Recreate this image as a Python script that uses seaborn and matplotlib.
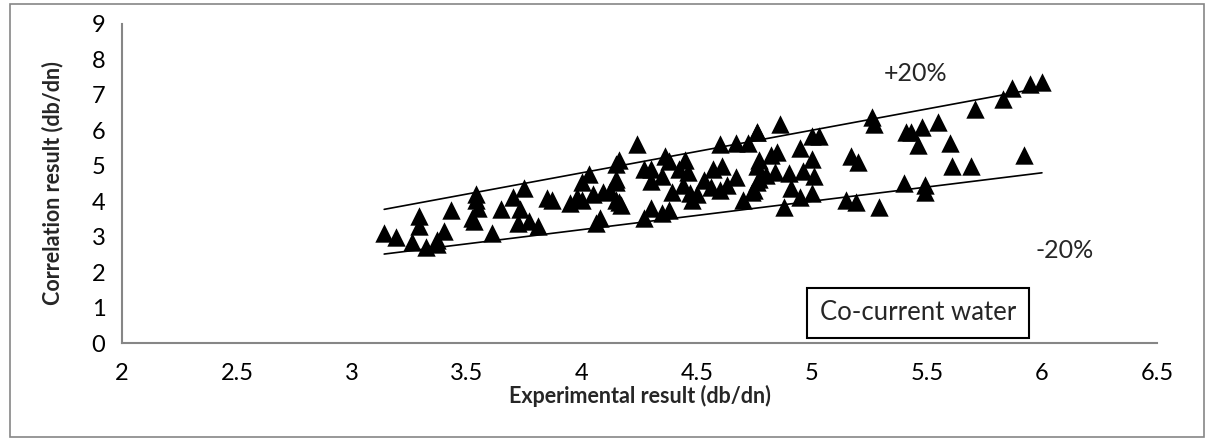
import matplotlib
matplotlib.use("Agg")
import matplotlib.pyplot as plt
import seaborn as sns
import pandas as pd
from matplotlib.patches import Rectangle

# experimental vs correlation values
experimental = [
    3.14, 3.19, 3.26, 3.29, 3.29, 3.32, 3.37, 3.37, 3.40, 3.43,
    3.52, 3.54, 3.54, 3.55, 3.53, 3.61, 3.65, 3.70, 3.75, 3.73,
    3.72, 3.77, 3.81, 3.85, 3.87, 3.95, 3.98, 4.03, 4.00, 4.00,
    4.09, 4.06, 4.08, 4.15, 4.15, 4.16, 4.24, 4.16, 4.27, 4.30,
    4.36, 4.38, 4.45, 4.46, 4.15, 4.30, 4.35, 4.47, 4.39, 4.17,
    4.15, 4.30, 4.27, 4.35, 4.38, 4.48, 4.50, 4.53, 4.60, 4.67,
    4.72, 4.76, 4.57, 4.61, 4.56, 4.60, 4.67, 4.76, 4.76, 4.70,
    4.74, 4.86, 4.76, 4.85, 4.95, 4.77, 5.00, 4.96, 4.84, 4.77,
    5.01, 4.75, 4.91, 4.95, 5.00, 4.88, 5.03, 5.00, 5.15, 5.19,
    5.17, 5.20, 5.26, 5.27, 5.29, 5.40, 5.41, 5.43, 5.46, 5.48,
    5.49, 5.49, 5.55, 5.60, 5.61, 5.69, 5.71, 5.83, 5.87, 5.92,
    5.95, 6.00, 4.42, 4.44, 4.63, 4.80, 4.82, 4.90, 4.05, 4.12,
]
correlation = [
    3.09, 3.00, 2.85, 3.59, 3.29, 2.70, 2.90, 2.80, 3.15, 3.74,
    3.53, 4.03, 4.20, 3.82, 3.44, 3.09, 3.79, 4.12, 4.38, 3.79,
    3.38, 3.44, 3.29, 4.09, 4.03, 3.94, 4.12, 4.76, 4.53, 4.03,
    4.26, 3.38, 3.53, 5.06, 4.53, 3.97, 5.60, 5.15, 4.90, 4.90,
    5.26, 5.12, 5.15, 4.82, 4.62, 4.56, 4.70, 4.23, 4.27, 3.88,
    4.03, 3.82, 3.53, 3.68, 3.74, 4.03, 4.20, 4.60, 5.60, 5.65,
    5.65, 5.94, 4.90, 5.00, 4.40, 4.32, 4.68, 5.00, 4.53, 4.03,
    4.26, 6.18, 5.94, 5.40, 5.50, 5.15, 5.20, 4.85, 4.82, 4.62,
    4.70, 4.32, 4.38, 4.12, 4.23, 3.85, 5.85, 5.85, 4.03, 3.97,
    5.26, 5.10, 6.38, 6.18, 3.83, 4.50, 5.94, 5.94, 5.58, 6.10,
    4.47, 4.26, 6.24, 5.65, 5.00, 5.00, 6.60, 6.88, 7.20, 5.30,
    7.30, 7.35, 4.90, 4.45, 4.45, 4.75, 5.30, 4.80, 4.20, 4.30,
]

# +/-20% bounds
bound_x = [3.14, 6.0]
upper_y = [3.77, 7.2]
lower_y = [2.51, 4.8]

x_ticks = [2, 2.5, 3, 3.5, 4, 4.5, 5, 5.5, 6, 6.5]
x_tick_labels = ["2", "2.5", "3", "3.5", "4", "4.5", "5", "5.5", "6", "6.5"]
y_ticks = list(range(0, 10))

axis_grey = "#868686"


def main():
    sns.set_style("white")
    plt.rcParams["font.family"] = ["Lato", "DejaVu Sans"]

    df = pd.DataFrame({"exp": experimental, "corr": correlation})

    fig = plt.figure(figsize=(12.14, 4.41), dpi=100)
    ax = fig.add_axes([0.1005, 0.222, 0.8525, 0.724])

    sns.lineplot(x=bound_x, y=upper_y, color="black", linewidth=1.2, ax=ax)
    sns.lineplot(x=bound_x, y=lower_y, color="black", linewidth=1.2, ax=ax)
    sns.scatterplot(data=df, x="exp", y="corr", marker="^", color="black",
                    s=175, linewidth=0, ax=ax, zorder=3)

    ax.set_xlim(2, 6.5)
    ax.set_ylim(0, 9)
    ax.set_xticks(x_ticks)
    ax.set_xticklabels(x_tick_labels)
    ax.set_yticks(y_ticks)
    ax.tick_params(axis="both", labelsize=17, colors=axis_grey,
                   labelcolor="black", length=6, width=1.2, direction="out")
    ax.tick_params(axis="x", pad=8)
    ax.tick_params(axis="y", pad=6)

    for side in ["top", "right"]:
        ax.spines[side].set_visible(False)
    for side in ["left", "bottom"]:
        ax.spines[side].set_color(axis_grey)
        ax.spines[side].set_linewidth(1.5)

    ax.set_xlabel("Experimental result (db/dn)", fontsize=15.5, fontweight="bold",
                  labelpad=1)
    ax.set_ylabel("Correlation result (db/dn)", fontsize=15.5, fontweight="bold",
                  labelpad=20)

    ax.text(5.31, 7.6, "+20%", fontsize=18, va="center", ha="left")
    ax.text(5.97, 2.6, "-20%", fontsize=18, va="center", ha="left")
    ax.text(5.46, 0.85, "Co-current water", fontsize=18.5, va="center", ha="center",
            bbox=dict(boxstyle="square,pad=0.5", facecolor="white",
                      edgecolor="black", linewidth=1.5))

    # outer chart frame
    fig.patches.append(Rectangle((0.008, 0.01), 0.984, 0.98, transform=fig.transFigure,
                                 fill=False, edgecolor=axis_grey, linewidth=1.2))

    fig.savefig("out.png", dpi=100)


if __name__ == "__main__":
    main()
